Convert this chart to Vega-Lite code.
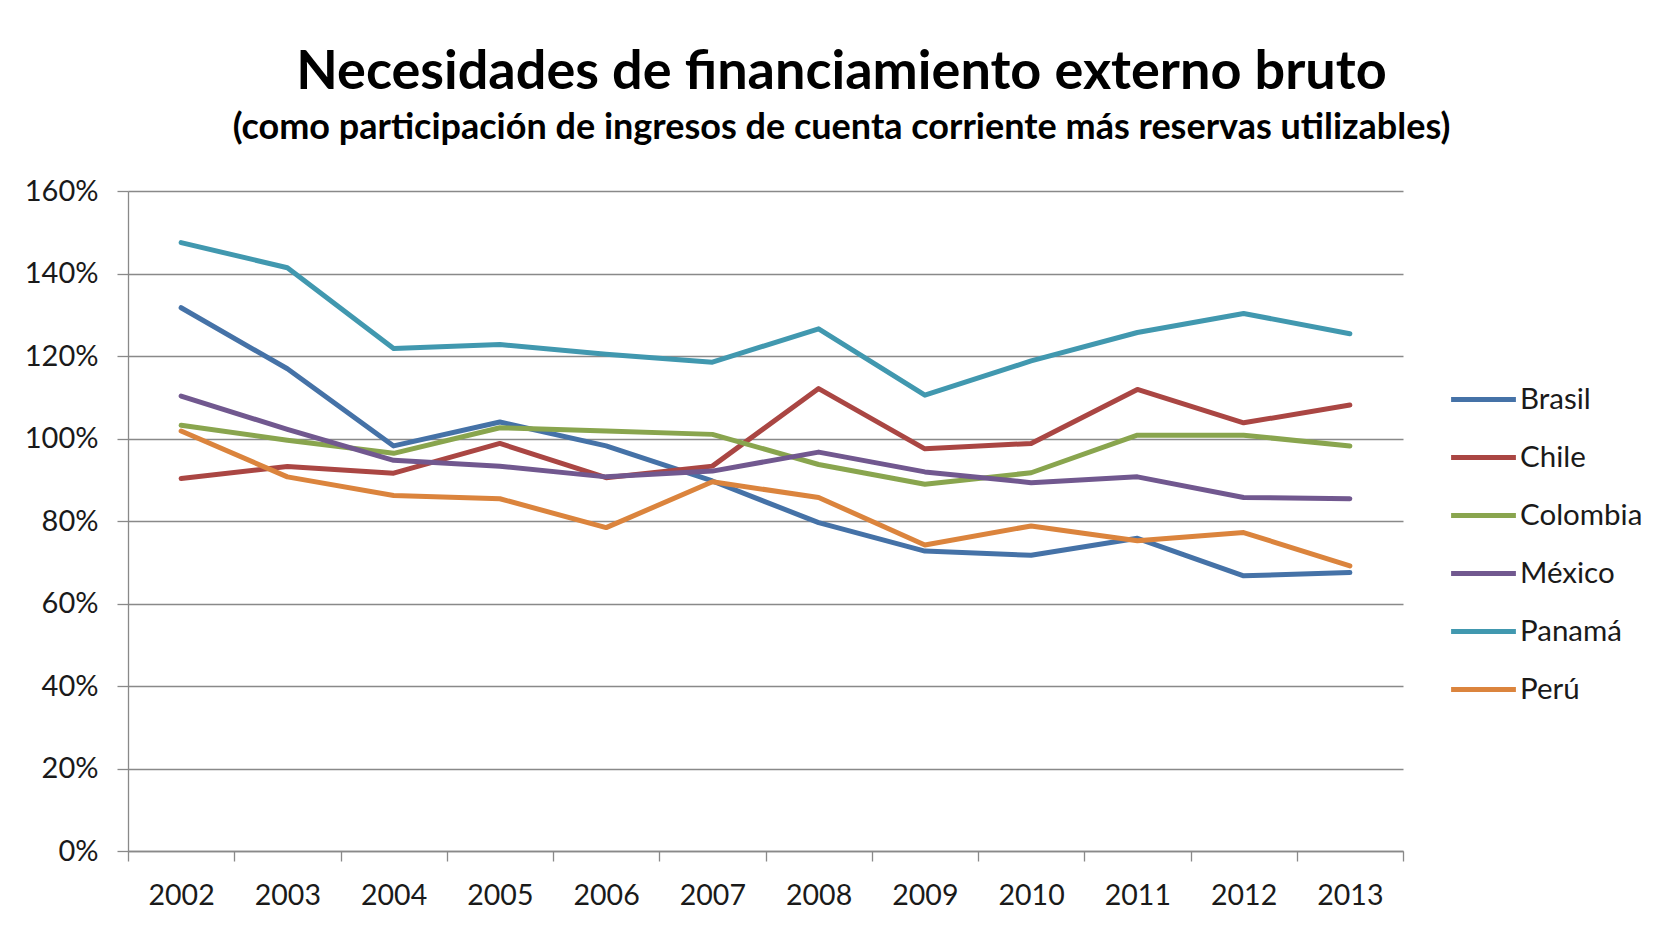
{
  "$schema": "https://vega.github.io/schema/vega-lite/v6.json",
  "width": 1275,
  "height": 660,
  "autosize": {"type": "pad"},
  "padding": {"left": 24, "top": 46, "right": 0, "bottom": 0},
  "background": "white",
  "title": {
    "text": "Necesidades de financiamiento externo bruto",
    "subtitle": "(como participación de ingresos de cuenta corriente más reservas utilizables)",
    "anchor": "middle",
    "frame": "group",
    "dx": 76,
    "font": "Lato",
    "fontSize": 54,
    "fontWeight": "bold",
    "color": "#000000",
    "subtitleFont": "Lato",
    "subtitleFontSize": 36,
    "subtitleFontWeight": "bold",
    "subtitleColor": "#000000",
    "subtitlePadding": 11,
    "offset": 31
  },
  "data": {
    "values": [
      {"country": "Brasil", "year": "2002", "value": 1.317},
      {"country": "Brasil", "year": "2003", "value": 1.169},
      {"country": "Brasil", "year": "2004", "value": 0.982},
      {"country": "Brasil", "year": "2005", "value": 1.040},
      {"country": "Brasil", "year": "2006", "value": 0.982},
      {"country": "Brasil", "year": "2007", "value": 0.897},
      {"country": "Brasil", "year": "2008", "value": 0.796},
      {"country": "Brasil", "year": "2009", "value": 0.727},
      {"country": "Brasil", "year": "2010", "value": 0.717},
      {"country": "Brasil", "year": "2011", "value": 0.758},
      {"country": "Brasil", "year": "2012", "value": 0.667},
      {"country": "Brasil", "year": "2013", "value": 0.675},
      {"country": "Chile", "year": "2002", "value": 0.903},
      {"country": "Chile", "year": "2003", "value": 0.932},
      {"country": "Chile", "year": "2004", "value": 0.916},
      {"country": "Chile", "year": "2005", "value": 0.988},
      {"country": "Chile", "year": "2006", "value": 0.905},
      {"country": "Chile", "year": "2007", "value": 0.933},
      {"country": "Chile", "year": "2008", "value": 1.121},
      {"country": "Chile", "year": "2009", "value": 0.975},
      {"country": "Chile", "year": "2010", "value": 0.988},
      {"country": "Chile", "year": "2011", "value": 1.119},
      {"country": "Chile", "year": "2012", "value": 1.038},
      {"country": "Chile", "year": "2013", "value": 1.081},
      {"country": "Colombia", "year": "2002", "value": 1.032},
      {"country": "Colombia", "year": "2003", "value": 0.996},
      {"country": "Colombia", "year": "2004", "value": 0.964},
      {"country": "Colombia", "year": "2005", "value": 1.026},
      {"country": "Colombia", "year": "2006", "value": 1.018},
      {"country": "Colombia", "year": "2007", "value": 1.010},
      {"country": "Colombia", "year": "2008", "value": 0.937},
      {"country": "Colombia", "year": "2009", "value": 0.889},
      {"country": "Colombia", "year": "2010", "value": 0.917},
      {"country": "Colombia", "year": "2011", "value": 1.008},
      {"country": "Colombia", "year": "2012", "value": 1.008},
      {"country": "Colombia", "year": "2013", "value": 0.982},
      {"country": "México", "year": "2002", "value": 1.103},
      {"country": "México", "year": "2003", "value": 1.022},
      {"country": "México", "year": "2004", "value": 0.947},
      {"country": "México", "year": "2005", "value": 0.933},
      {"country": "México", "year": "2006", "value": 0.907},
      {"country": "México", "year": "2007", "value": 0.921},
      {"country": "México", "year": "2008", "value": 0.967},
      {"country": "México", "year": "2009", "value": 0.919},
      {"country": "México", "year": "2010", "value": 0.893},
      {"country": "México", "year": "2011", "value": 0.907},
      {"country": "México", "year": "2012", "value": 0.857},
      {"country": "México", "year": "2013", "value": 0.854},
      {"country": "Panamá", "year": "2002", "value": 1.475},
      {"country": "Panamá", "year": "2003", "value": 1.414},
      {"country": "Panamá", "year": "2004", "value": 1.218},
      {"country": "Panamá", "year": "2005", "value": 1.228},
      {"country": "Panamá", "year": "2006", "value": 1.204},
      {"country": "Panamá", "year": "2007", "value": 1.185},
      {"country": "Panamá", "year": "2008", "value": 1.266},
      {"country": "Panamá", "year": "2009", "value": 1.105},
      {"country": "Panamá", "year": "2010", "value": 1.188},
      {"country": "Panamá", "year": "2011", "value": 1.257},
      {"country": "Panamá", "year": "2012", "value": 1.303},
      {"country": "Panamá", "year": "2013", "value": 1.254},
      {"country": "Perú", "year": "2002", "value": 1.018},
      {"country": "Perú", "year": "2003", "value": 0.907},
      {"country": "Perú", "year": "2004", "value": 0.862},
      {"country": "Perú", "year": "2005", "value": 0.854},
      {"country": "Perú", "year": "2006", "value": 0.784},
      {"country": "Perú", "year": "2007", "value": 0.895},
      {"country": "Perú", "year": "2008", "value": 0.857},
      {"country": "Perú", "year": "2009", "value": 0.742},
      {"country": "Perú", "year": "2010", "value": 0.788},
      {"country": "Perú", "year": "2011", "value": 0.752},
      {"country": "Perú", "year": "2012", "value": 0.772},
      {"country": "Perú", "year": "2013", "value": 0.691}
    ]
  },
  "mark": {"type": "line", "strokeWidth": 5, "strokeCap": "round", "strokeJoin": "round"},
  "encoding": {
    "x": {
      "field": "year",
      "type": "ordinal",
      "bandPosition": 0.5,
      "scale": {"type": "band", "paddingInner": 0, "paddingOuter": 0},
      "axis": {
        "title": null,
        "labelAngle": 0,
        "tickBand": "extent",
        "grid": false,
        "tickSize": 10,
        "tickColor": "#898989",
        "tickWidth": 1.3,
        "domainColor": "#898989",
        "domainWidth": 1.3,
        "labelFont": "Lato",
        "labelFontSize": 28.5,
        "labelColor": "#1a1a1a",
        "labelPadding": 20
      }
    },
    "y": {
      "field": "value",
      "type": "quantitative",
      "scale": {"domain": [0, 1.6], "nice": false},
      "axis": {
        "title": null,
        "values": [0, 0.2, 0.4, 0.6, 0.8, 1.0, 1.2, 1.4, 1.6],
        "format": ".0%",
        "grid": true,
        "gridColor": "#898989",
        "gridWidth": 1.3,
        "tickSize": 11,
        "tickColor": "#898989",
        "tickWidth": 1.3,
        "domainColor": "#898989",
        "domainWidth": 1.3,
        "labelFont": "Lato",
        "labelFontSize": 29,
        "labelColor": "#1a1a1a",
        "labelPadding": 19
      }
    },
    "color": {
      "field": "country",
      "type": "nominal",
      "scale": {
        "domain": ["Brasil", "Chile", "Colombia", "México", "Panamá", "Perú"],
        "range": ["#4572A7", "#AA4643", "#89A54E", "#71588F", "#4198AF", "#DB843D"]
      },
      "legend": {
        "title": null,
        "orient": "none",
        "legendX": 1326,
        "legendY": 179,
        "padding": 0,
        "symbolType": "M-1.2,0H1.2",
        "symbolSize": 2916,
        "symbolStrokeWidth": 5,
        "labelFont": "Lato",
        "labelFontSize": 29.5,
        "labelColor": "#1a1a1a",
        "labelOffset": 7,
        "rowPadding": 14
      }
    }
  },
  "config": {"view": {"stroke": null}}
}
